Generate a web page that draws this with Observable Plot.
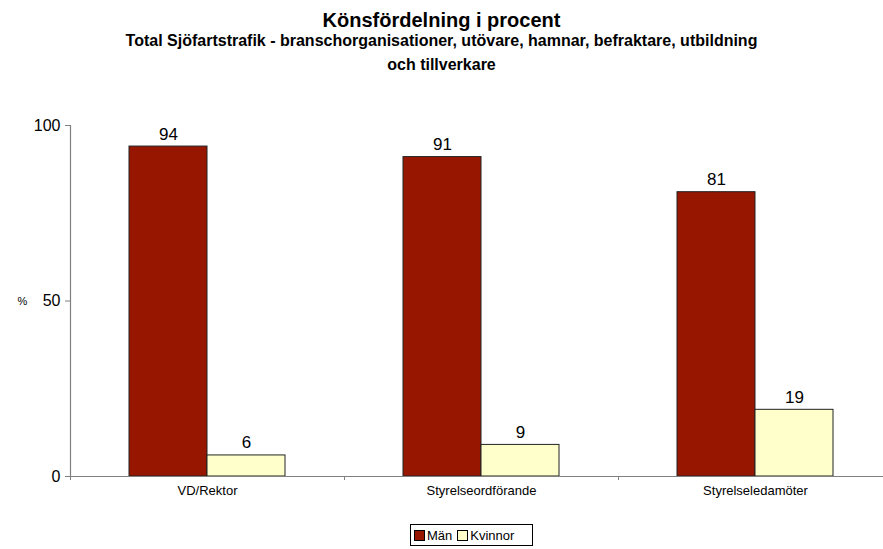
<!DOCTYPE html>
<html>
<head>
<meta charset="utf-8">
<script src="https://cdn.jsdelivr.net/npm/d3@7"></script>
<script src="https://cdn.jsdelivr.net/npm/@observablehq/plot@0.6"></script>
<style>
  html, body { margin: 0; padding: 0; background: #fff; overflow: hidden; }
  body { width: 883px; height: 549px; font-family: "Liberation Sans", Arial, sans-serif; }
  #titles { width: 883px; height: 95px; text-align: center; color: #000; position: relative; }
  #t1 { position: absolute; left: 0; width: 883px; top: 8px; font-weight: bold; font-size: 20px; line-height: 24px; }
  #t2 { position: absolute; left: 0; width: 883px; top: 29px; font-weight: bold; font-size: 16px; line-height: 24px; }
  #chart { width: 883px; height: 425px; overflow: hidden; }
  #chart svg { max-width: none !important; display: block; }
  #legend { width: 883px; height: 29px; position: relative; }
  #legend .box { position: absolute; left: 410px; top: 4px; width: 123px; height: 22px; border: 1px solid #000; box-sizing: border-box; font-size: 13px; display: flex; align-items: center; padding-left: 3px; }
  #legend .sw { display: inline-block; width: 9px; height: 9px; border: 1px solid #000; margin-right: 2px; }
  #legend .item { display: inline-flex; align-items: center; margin-right: 5px; }
</style>
</head>
<body>
<div id="titles">
  <div id="t1">Könsfördelning i procent</div>
  <div id="t2">Total Sjöfartstrafik - branschorganisationer, utövare, hamnar, befraktare, utbildning<br>och tillverkare</div>
</div>
<div id="chart"></div>
<div id="legend"><div class="box" id="lgbox"></div></div>
<script>
const categories = ["VD/Rektor", "Styrelseordförande", "Styrelseledamöter"];
const series = ["Män", "Kvinnor"];
const manValues = [94, 91, 81];
const kvinnorValues = [6, 9, 19];
const yTicks = [0, 50, 100];
const colors = ["#961600", "#FFFFCC"];

const data = [];
categories.forEach((c, i) => {
  data.push({category: c, series: series[0], value: manValues[i]});
  data.push({category: c, series: series[1], value: kvinnorValues[i]});
});

const chart = Plot.plot({
  width: 892,
  height: 425,
  marginTop: 30,
  marginLeft: 70,
  marginRight: 0,
  marginBottom: 44,
  style: {fontFamily: "'Liberation Sans', Arial, sans-serif", background: "#fff", color: "#000"},
  fx: {domain: categories, padding: 0, label: null},
  x: {domain: series, paddingInner: 0, paddingOuter: 0.756, axis: null},
  y: {domain: [0, 100], label: null},
  color: {domain: series, range: colors},
  marks: [
    Plot.barY(data, {fx: "category", x: "series", y: "value", fill: "series", stroke: "#222", strokeWidth: 1}),
    Plot.text(data, {fx: "category", x: "series", y: "value", text: d => String(d.value), lineAnchor: "bottom", dy: -7, fontSize: 17, fill: "#000"}),
    Plot.ruleY([0], {stroke: "#808080", strokeWidth: 1.2}),
    Plot.frame({anchor: "left", stroke: "#808080", strokeWidth: 1.2, facetAnchor: "left"}),
    Plot.axisY({ticks: yTicks, tickSize: 5, tickPadding: 5, fontSize: 16, stroke: "#808080", color: "#000", label: null}),
    Plot.axisFx({anchor: "bottom", tickSize: 0, tickPadding: 9, fontSize: 13, label: null}),
    Plot.axisFx({anchor: "bottom", tickSize: 4, text: null, dx: -137, stroke: "#808080", label: null}),
    Plot.text(["%"], {y: [50], frameAnchor: "left", dx: -53, fontSize: 11, fill: "#000", facetAnchor: "left"})
  ]
});
document.getElementById("chart").appendChild(chart);

const box = document.getElementById("lgbox");
series.forEach((s, i) => {
  const item = document.createElement("span");
  item.className = "item";
  const sw = document.createElement("span");
  sw.className = "sw";
  sw.style.background = colors[i];
  item.appendChild(sw);
  item.appendChild(document.createTextNode(s));
  box.appendChild(item);
});
</script>
</body>
</html>
